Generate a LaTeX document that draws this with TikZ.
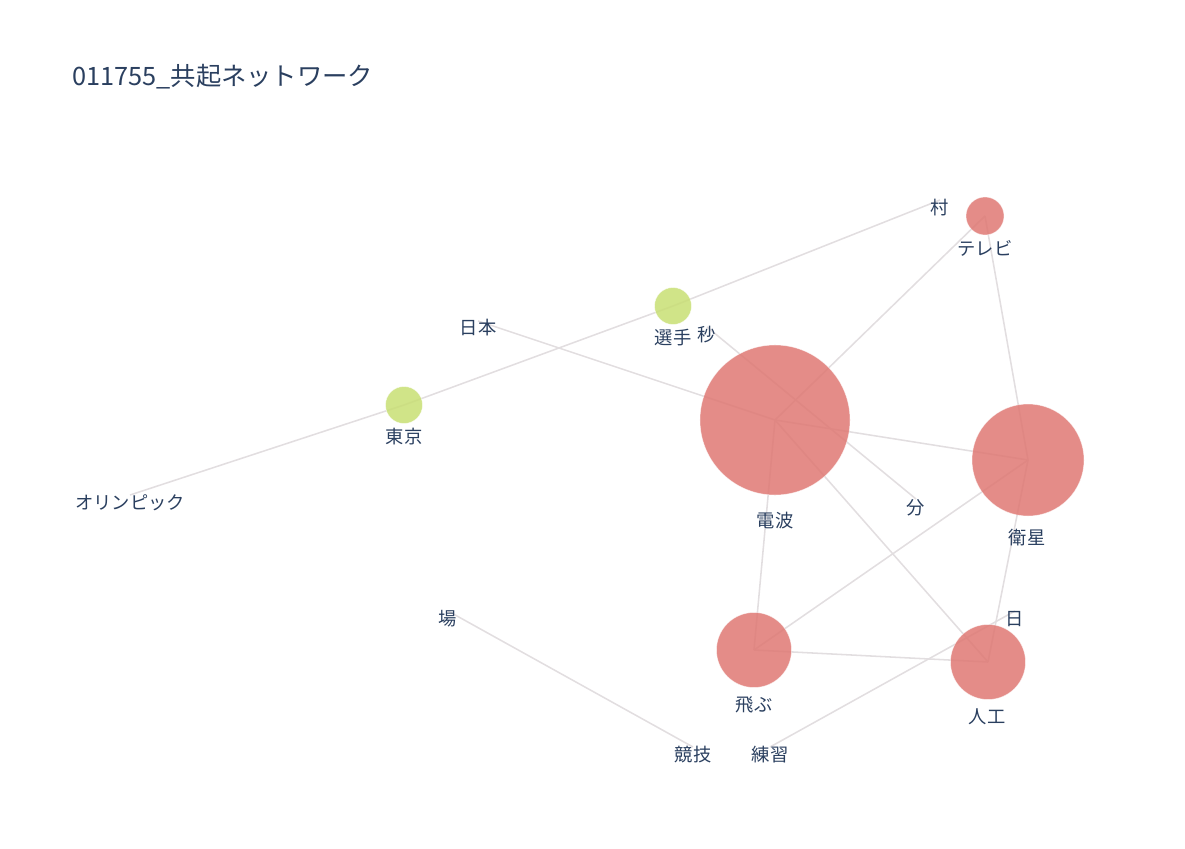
\documentclass[tikz,border=0pt]{standalone}
\usepackage{fontspec}
\setmainfont{Noto Sans CJK JP}
\definecolor{wordred}{RGB}{223,120,115}
\definecolor{wordgreen}{RGB}{200,223,115}
\definecolor{edgegray}{RGB}{226,222,224}
\definecolor{labelblue}{RGB}{42,63,95}

\begin{document}
\begin{tikzpicture}[
    x=0.025cm, y=-0.025cm,
    edge/.style={draw=edgegray, line width=1.1pt},
    bubble/.style={circle, fill=#1, fill opacity=0.85, draw=white, draw opacity=0.6, line width=0.4pt, inner sep=0pt},
    word/.style={text=labelblue, font=\fontsize{13}{15}\selectfont, inner sep=0pt},
    title/.style={text=labelblue, font=\fontsize{18}{21}\selectfont, anchor=west, inner sep=0pt}
  ]
    \useasboundingbox (0,0) rectangle (1185,849);
    \node[title] (title) at (72,77) {011755\_共起ネットワーク};

    % Word positions
    \coordinate (mura) at (940,200);
    \coordinate (terebi) at (985,216);
    \coordinate (nihon) at (478,321);
    \coordinate (senshu) at (673,306);
    \coordinate (byou) at (707,327);
    \coordinate (tokyo) at (404,405);
    \coordinate (olympic) at (130,495);
    \coordinate (denpa) at (775,420);
    \coordinate (fun) at (916,499);
    \coordinate (eisei) at (1028,460);
    \coordinate (ba) at (448,611);
    \coordinate (hi) at (1015,611);
    \coordinate (tobu) at (754,650);
    \coordinate (jinkou) at (988,662);
    \coordinate (kyougi) at (693,747);
    \coordinate (renshuu) at (770,747);

    % Edges
    \draw[edge] (olympic) -- (tokyo);
    \draw[edge] (tokyo) -- (senshu);
    \draw[edge] (senshu) -- (mura);
    \draw[edge] (nihon) -- (denpa);
    \draw[edge] (byou) -- (fun);
    \draw[edge] (denpa) -- (terebi);
    \draw[edge] (denpa) -- (eisei);
    \draw[edge] (denpa) -- (tobu);
    \draw[edge] (denpa) -- (jinkou);
    \draw[edge] (terebi) -- (eisei);
    \draw[edge] (eisei) -- (tobu);
    \draw[edge] (eisei) -- (jinkou);
    \draw[edge] (tobu) -- (jinkou);
    \draw[edge] (renshuu) -- (hi);
    \draw[edge] (ba) -- (kyougi);

    % Bubbles
    \node[bubble=wordred, minimum size=3.75cm] (denpa-dot) at (denpa) {};
    \node[bubble=wordred, minimum size=2.8cm] (eisei-dot) at (eisei) {};
    \node[bubble=wordred, minimum size=1.875cm] (tobu-dot) at (tobu) {};
    \node[bubble=wordred, minimum size=1.875cm] (jinkou-dot) at (jinkou) {};
    \node[bubble=wordred, minimum size=0.95cm] (terebi-dot) at (terebi) {};
    \node[bubble=wordgreen, minimum size=0.925cm] (senshu-dot) at (senshu) {};
    \node[bubble=wordgreen, minimum size=0.925cm] (tokyo-dot) at (tokyo) {};

    % Labels
    \node[word] (mura-label) at (940,208) {村};
    \node[word] (terebi-label) at (985,248) {テレビ};
    \node[word] (nihon-label) at (478,328) {日本};
    \node[word] (senshu-label) at (673,338) {選手};
    \node[word] (byou-label) at (707,335) {秒};
    \node[word] (tokyo-label) at (404,437) {東京};
    \node[word] (olympic-label) at (130,503) {オリンピック};
    \node[word] (denpa-label) at (775,521) {電波};
    \node[word] (fun-label) at (916,508) {分};
    \node[word] (eisei-label) at (1027,538) {衛星};
    \node[word] (ba-label) at (448,619) {場};
    \node[word] (hi-label) at (1015,619) {日};
    \node[word] (tobu-label) at (754,705) {飛ぶ};
    \node[word] (jinkou-label) at (987,717) {人工};
    \node[word] (kyougi-label) at (693,755) {競技};
    \node[word] (renshuu-label) at (770,755) {練習};
\end{tikzpicture}
\end{document}
